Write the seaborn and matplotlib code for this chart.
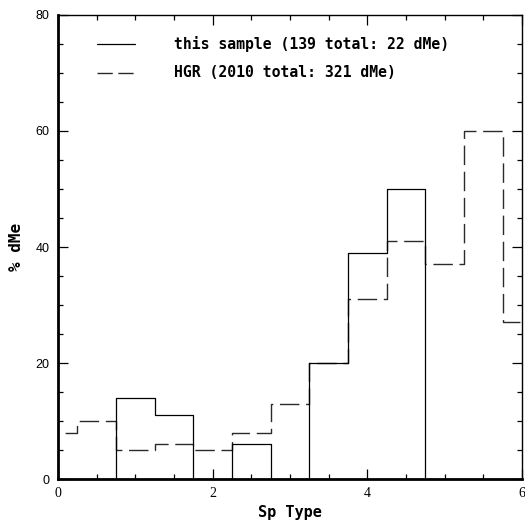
import numpy as np
import pandas as pd
import matplotlib
matplotlib.use("Agg")
import matplotlib.pyplot as plt
import seaborn as sns
from matplotlib.ticker import MultipleLocator

# Spectral-type bins (centres) and the percentage of dMe stars in each bin
sp_type = [0.0, 0.5, 1.0, 1.5, 2.0, 2.5, 3.0, 3.5, 4.0, 4.5, 5.0, 5.5, 6.0]
this_sample = [0, 0, 14, 11, 0, 6, 0, 20, 39, 50, 0, 0, 0]
hgr = [8, 10, 5, 6, 5, 8, 13, 20, 31, 41, 37, 60, 27]
bin_width = 0.5

label_sample = "this sample (139 total: 22 dMe)"
label_hgr = "HGR (2010 total: 321 dMe)"

sns.set_style("ticks")
plt.rcParams["font.family"] = ["Liberation Sans", "DejaVu Sans"]
plt.rcParams["text.color"] = "black"
plt.rcParams["xtick.labelcolor"] = "black"
plt.rcParams["ytick.labelcolor"] = "black"
plt.rcParams["axes.labelcolor"] = "black"

df = pd.DataFrame({"sp": sp_type, "sample": this_sample, "hgr": hgr})
brange = (sp_type[0] - bin_width / 2, sp_type[-1] + bin_width / 2)

fig = plt.figure(figsize=(5.25, 5.21), dpi=100)
ax = fig.add_axes([58 / 525, 42 / 521, 464 / 525, 464 / 521])

dash = (0, (14, 4.8))
sns.histplot(data=df, x="sp", weights="hgr", binwidth=bin_width, binrange=brange,
             element="step", fill=False, color="#2a2a2a", linewidth=1.0,
             linestyle=dash, ax=ax)
sns.histplot(data=df, x="sp", weights="sample", binwidth=bin_width, binrange=brange,
             element="step", fill=False, color="black", linewidth=0.9, ax=ax)

ax.set_xlim(0, 6)
ax.set_ylim(0, 80)

ax.xaxis.set_major_locator(MultipleLocator(2))
ax.xaxis.set_minor_locator(MultipleLocator(0.5))
ax.yaxis.set_major_locator(MultipleLocator(20))
ax.yaxis.set_minor_locator(MultipleLocator(5))
ax.tick_params(which="both", direction="in", top=True, right=True,
               width=0.9, color="black")
ax.tick_params(which="major", length=7.5, pad=6)
ax.tick_params(which="minor", length=3.8)
ax.tick_params(axis="y", labelsize=9)
ax.tick_params(axis="x", labelsize=10)
for lab in ax.get_xticklabels():
    lab.set_family(["Liberation Serif", "DejaVu Serif"])

for side in ("left", "bottom"):
    ax.spines[side].set_linewidth(2.0)
    ax.spines[side].set_color("black")
for side in ("top", "right"):
    ax.spines[side].set_linewidth(1.0)
    ax.spines[side].set_color("black")

mono = {"family": ["DejaVu Sans Mono"], "weight": "bold", "color": "black"}
ax.set_xlabel("Sp Type", fontsize=11, **mono)
ax.set_ylabel("% dMe", fontsize=11.5, **mono)
ax.xaxis.set_label_coords(0.5, -0.056)
ax.yaxis.set_label_coords(-0.073, 0.5)

# Key drawn inside the plot area
ax.plot([0.5, 1.0], [75, 75], color="black", lw=0.9)
ax.plot([0.5, 1.0], [70, 70], color="#2a2a2a", lw=1.0, linestyle=(0, (11, 4)))
ax.text(1.5, 75, label_sample, va="center", ha="left", fontsize=10.6, **mono)
ax.text(1.5, 70, label_hgr, va="center", ha="left", fontsize=10.6, **mono)

fig.savefig("out.png", dpi=100)
